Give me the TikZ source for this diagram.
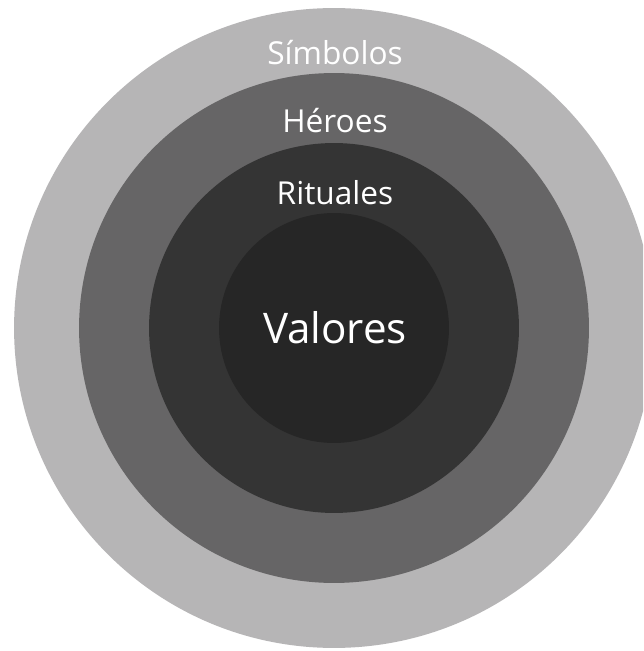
\documentclass[tikz,border=0pt]{standalone}
\usepackage{fontspec}
\setmainfont{Open Sans}
\definecolor{simbolos}{RGB}{182,181,182}
\definecolor{heroes}{RGB}{102,101,102}
\definecolor{rituales}{RGB}{52,52,52}
\definecolor{valores}{RGB}{38,38,38}
\begin{document}
\begin{tikzpicture}[x=0.02cm,y=-0.02cm,
    ring/.style={circle,inner sep=0pt,draw=none},
    lbl/.style={text=white,anchor=base,inner sep=0pt,font=\fontsize{18}{20}\selectfont}
]
    \fill[white] (0,0) rectangle (643,651);
    \clip (0,0) rectangle (643,651);
    % rings, outside in
    \node[ring,fill=simbolos,minimum size=12.8cm] (simb) at (334,328) {};
    \node[ring,fill=heroes,minimum size=10.2cm] (her) at (334,328) {};
    \node[ring,fill=rituales,minimum size=7.4cm] (rit) at (334,328) {};
    \node[ring,fill=valores,minimum size=4.6cm] (val) at (334,328) {};
    % labels
    \node[lbl] (tsimb) at (335,65) {Símbolos};
    \node[lbl] (ther) at (335,133) {Héroes};
    \node[lbl] (trit) at (335,205) {Rituales};
    \node[lbl,font=\fontsize{24}{28}\selectfont] (tval) at (335,343) {Valores};
\end{tikzpicture}
\end{document}
